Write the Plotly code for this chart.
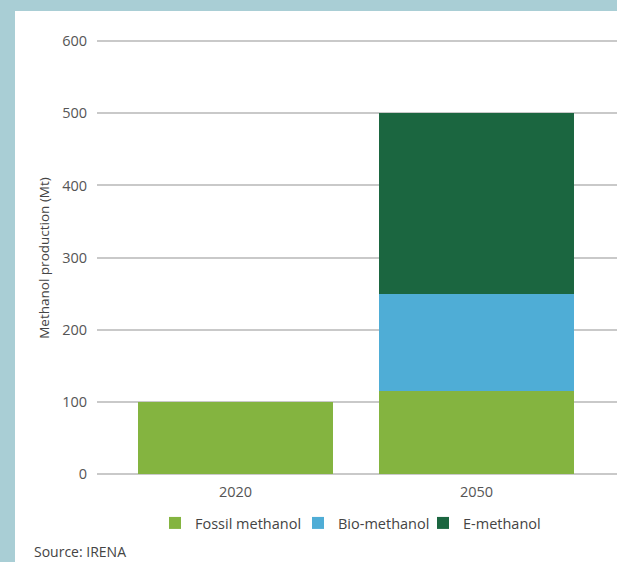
import plotly.graph_objects as go

years = ["2020", "2050"]
fossil = [100, 115]
bio = [0, 135]
emeth = [0, 250]
series_names = ["Fossil methanol", "Bio-methanol", "E-methanol"]
colors = ["#84b440", "#4fadd6", "#1b6640"]
ytitle = "Methanol production (Mt)"
source = "Source: IRENA"

FONT = "Open Sans"

W, H = 617, 562
ml, mr, mt, mb = 97, 0, 40, 86
pw, ph = W - ml - mr, H - mt - mb

def px_x(x):
    return (x - ml) / pw

def px_y(y):
    return (H - mb - y) / ph

legend_ids = ["legend", "legend2", "legend3"]
legend_px = [155, 298, 423]

fig = go.Figure()
for name, vals, col, lid in zip(series_names, [fossil, bio, emeth], colors, legend_ids):
    fig.add_trace(go.Bar(
        x=years, y=vals, name=name, marker=dict(color=col, line=dict(width=0)),
        width=0.81, legend=lid,
    ))

legend_common = dict(
    orientation="h", xanchor="left", y=px_y(523), yanchor="middle",
    font=dict(size=14.5, color="#444444"), itemwidth=30,
    bgcolor="rgba(0,0,0,0)", borderwidth=0,
)

fig.update_layout(
    width=W, height=H,
    margin=dict(l=ml, r=mr, t=mt, b=mb, pad=0),
    barmode="stack",
    paper_bgcolor="#a9ced5",
    plot_bgcolor="white",
    font=dict(family=FONT, color="#555555", size=14),
    showlegend=True,
    legend=dict(x=px_x(legend_px[0]), **legend_common),
    legend2=dict(x=px_x(legend_px[1]), **legend_common),
    legend3=dict(x=px_x(legend_px[2]), **legend_common),
    xaxis=dict(
        type="category", range=[-0.575, 1.583], showgrid=False, zeroline=False,
        showline=False, ticks="", tickfont=dict(size=14.5, color="#555555"),
        ticklabelstandoff=5,
    ),
    yaxis=dict(
        range=[-2.35, 601.4], tickvals=[0, 100, 200, 300, 400, 500, 600],
        showgrid=True, gridcolor="#c9c9c9", gridwidth=1.5, zeroline=False,
        showline=False, ticks="", tickfont=dict(size=14.5, color="#555555"),
        ticklabelstandoff=9,
        title=dict(text=ytitle, font=dict(size=13.5, color="#444444"), standoff=9),
    ),
    shapes=[dict(
        type="rect", xref="paper", yref="paper",
        x0=px_x(15), x1=px_x(W + 5), y0=px_y(11), y1=px_y(H + 5),
        fillcolor="white", line=dict(width=0), layer="below",
    )],
    annotations=[dict(
        text=source, xref="paper", yref="paper", x=px_x(32), xanchor="left",
        y=px_y(551), yanchor="middle", showarrow=False,
        font=dict(size=14, color="#444444"),
    )],
)

fig.write_html("out.html")
